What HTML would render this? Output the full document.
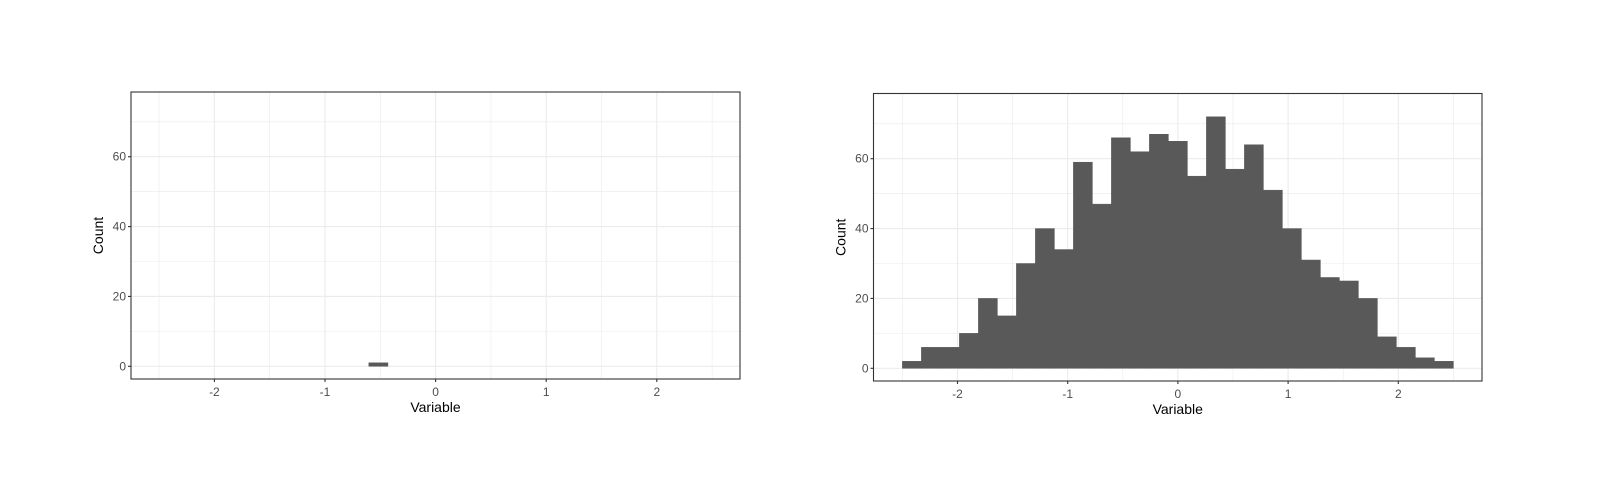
<!DOCTYPE html>
<html><head><meta charset="utf-8"><style>
body{margin:0;background:#fff;}
svg{display:block;font-family:"Liberation Sans",sans-serif;}
</style></head><body>
<svg id="chart" width="1621" height="500" xmlns="http://www.w3.org/2000/svg"></svg>
<script>
const binWidth = 5/29;
const binKs = [-14,-13,-12,-11,-10,-9,-8,-7,-6,-5,-4,-3,-2,-1,0,1,2,3,4,5,6,7,8,9,10,11,12,13,14];
const rightCounts = [2,6,6,10,20,15,30,40,34,59,47,66,62,67,65,55,72,57,64,51,40,31,26,25,20,9,6,3,2];
const leftBinKs = [-3];
const leftCounts = [1];
const xTicks = [-2,-1,0,1,2];
const xMinor = [-2.5,-1.5,-0.5,0.5,1.5,2.5];
const yTicks = [0,20,40,60];
const yMinor = [10,30,50,70];

const NS = "http://www.w3.org/2000/svg";
const svg = document.getElementById('chart');
function mk(tag, attrs, parent){
  const e = document.createElementNS(NS, tag);
  for (const k in attrs) e.setAttribute(k, attrs[k]);
  (parent||svg).appendChild(e);
  return e;
}
function panel(p){
  const g = mk('g', {});
  
  
  const X = v => p.x0 + v*p.sx;
  const Y = v => p.y0 - v*p.sy;
  xMinor.forEach(v=>{const l=mk('line',{x1:X(v),x2:X(v),y1:p.top,y2:p.bottom,stroke:'#ebebeb','stroke-width':0.6},g);
    });
  yMinor.forEach(v=>{const l=mk('line',{x1:p.left,x2:p.right,y1:Y(v),y2:Y(v),stroke:'#ebebeb','stroke-width':0.6},g);
    });
  xTicks.forEach(v=>{const l=mk('line',{x1:X(v),x2:X(v),y1:p.top,y2:p.bottom,stroke:'#ebebeb','stroke-width':1.1},g);
    });
  yTicks.forEach(v=>{const l=mk('line',{x1:p.left,x2:p.right,y1:Y(v),y2:Y(v),stroke:'#ebebeb','stroke-width':1.1},g);
    });
  p.ks.forEach((k,i)=>{
    const x1 = X((k-0.5)*binWidth), x2 = X((k+0.5)*binWidth);
    const r = mk('rect',{x:x1,y:Y(p.counts[i]),width:x2-x1,height:Y(0)-Y(p.counts[i]),fill:'#595959',stroke:'#595959','stroke-width':0.5},g);
    
    
  });
  const fr = mk('rect',{x:p.left,y:p.top,width:p.right-p.left,height:p.bottom-p.top,fill:'none',stroke:'#333','stroke-width':1.1},g);
  
  xTicks.forEach(v=>{
    const t=mk('line',{x1:X(v),x2:X(v),y1:p.bottom,y2:p.bottom+3,stroke:'#333','stroke-width':1.1},g);
    
    const tx=mk('text',{x:X(v),y:p.bottom+17,'text-anchor':'middle','font-size':12,fill:'#4d4d4d'},g);
    tx.textContent=String(v);
    
  });
  yTicks.forEach(v=>{
    const t=mk('line',{x1:p.left-3,x2:p.left,y1:Y(v),y2:Y(v),stroke:'#333','stroke-width':1.1},g);
    
    const tx=mk('text',{x:p.left-5,y:Y(v)+4,'text-anchor':'end','font-size':12,fill:'#4d4d4d'},g);
    tx.textContent=String(v);
    
  });
  const xt=mk('text',{x:(p.left+p.right)/2,y:p.bottom+33,'text-anchor':'middle','font-size':14,fill:'#000'},g);
  xt.textContent='Variable';
  
  const cy=(p.top+p.bottom)/2;
  const yt=mk('text',{x:p.left-28,y:cy,'text-anchor':'middle','font-size':14,fill:'#000',transform:`rotate(-90 ${p.left-28} ${cy})`},g);
  yt.textContent='Count';
  
}
panel({name:'left-histogram-panel',left:131,right:740,top:92,bottom:379,x0:435.6,sx:110.6,y0:366.3,sy:3.493,ks:leftBinKs,counts:leftCounts});
panel({name:'right-histogram-panel',left:873.5,right:1482,top:93.5,bottom:381,x0:1177.9,sx:110.2,y0:368.3,sy:3.493,ks:binKs,counts:rightCounts});
</script>
</body></html>
